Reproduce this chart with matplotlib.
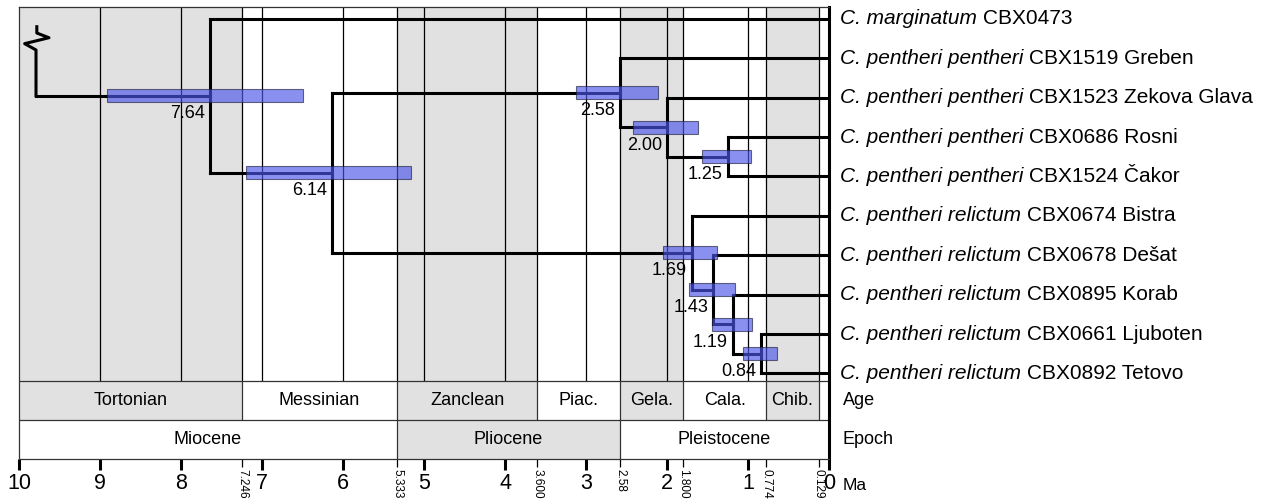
import matplotlib
matplotlib.use('Agg')
import matplotlib.pyplot as plt
from matplotlib.patches import Rectangle

plt.rcParams['font.family'] = ['Liberation Sans', 'DejaVu Sans']

# tip labels, top to bottom (italic part, plain part)
taxa_it = ['C. marginatum',
           'C. pentheri pentheri', 'C. pentheri pentheri', 'C. pentheri pentheri',
           'C. pentheri pentheri',
           'C. pentheri relictum', 'C. pentheri relictum', 'C. pentheri relictum',
           'C. pentheri relictum', 'C. pentheri relictum']
taxa_rest = ['CBX0473', 'CBX1519 Greben', 'CBX1523 Zekova Glava', 'CBX0686 Rosni',
             'CBX1524 Čakor', 'CBX0674 Bistra', 'CBX0678 Dešat', 'CBX0895 Korab',
             'CBX0661 Ljuboten', 'CBX0892 Tetovo']

# (node age, [children]) ; ints are tip indices
tree = (7.64, [0, (6.14, [(2.58, [1, (2.00, [2, (1.25, [3, 4])])]),
                          (1.69, [5, (1.43, [6, (1.19, [7, (0.84, [8, 9])])])])])])

# 95% HPD intervals (Ma)
hpd = {7.64: (8.91, 6.49), 6.14: (7.20, 5.16), 2.58: (3.12, 2.11),
       2.00: (2.42, 1.62), 1.25: (1.57, 0.96), 1.69: (2.05, 1.38),
       1.43: (1.73, 1.16), 1.19: (1.44, 0.95), 0.84: (1.06, 0.64)}

root_age = 9.79

# stages
stage_names = ['Tortonian', 'Messinian', 'Zanclean', 'Piac.', 'Gela.', 'Cala.', 'Chib.', '']
stage_bounds = [10, 7.246, 5.333, 3.600, 2.58, 1.800, 0.774, 0.129, 0]
stage_grey = [True, False, True, False, True, False, True, False]

epoch_names = ['Miocene', 'Pliocene', 'Pleistocene']
epoch_bounds = [10, 5.333, 2.58, 0]
epoch_grey = [False, True, False]

bound_labels = ['7.246', '5.333', '3.600', '2.58', '1.800', '0.774', '0.129']

grey = '#e1e1e1'
tree_top, age_top, epoch_top, epoch_bot = -0.3, 9.18, 10.18, 11.17
tip_fs = 15

fig = plt.figure(figsize=(12.73, 4.99), dpi=100)
ax = fig.add_axes([19 / 1273, 40 / 499, 810 / 1273, 452 / 499])
ax.set_xlim(10, 0)
ax.set_ylim(epoch_bot, tree_top)

# background shading of stages in tree panel and age band
for i in range(len(stage_names)):
    a, b = stage_bounds[i], stage_bounds[i + 1]
    if stage_grey[i]:
        ax.add_patch(Rectangle((b, tree_top), a - b, epoch_top - tree_top,
                               facecolor=grey, edgecolor='none', zorder=0))
    ax.text((a + b) / 2, (age_top + epoch_top) / 2, stage_names[i],
            ha='center', va='center', fontsize=13)
for i in range(len(epoch_names)):
    a, b = epoch_bounds[i], epoch_bounds[i + 1]
    if epoch_grey[i]:
        ax.add_patch(Rectangle((b, epoch_top), a - b, epoch_bot - epoch_top,
                               facecolor=grey, edgecolor='none', zorder=0))
    ax.text((a + b) / 2, (epoch_top + epoch_bot) / 2, epoch_names[i],
            ha='center', va='center', fontsize=13)

# vertical lines
grid = [9, 8, 7, 6, 5, 4, 3, 2, 1] + stage_bounds[1:-1]
ax.vlines(grid, tree_top, age_top, color='black', lw=0.9, zorder=1)
ax.vlines(stage_bounds[1:-1], age_top, epoch_top, color='#333333', lw=0.9, zorder=1)
ax.vlines(epoch_bounds[1:-1], epoch_top, epoch_bot, color='#333333', lw=0.9, zorder=1)
ax.hlines([age_top, epoch_top], 10, 0, color='#333333', lw=0.9, zorder=1)

lw = 2.2


def draw(node):
    if isinstance(node, int):
        return 0.0, float(node)
    age, kids = node
    pts = [draw(k) for k in kids]
    ys = [p[1] for p in pts]
    ax.plot([age, age], [min(ys), max(ys)], color='black', lw=lw, zorder=2,
            solid_capstyle='projecting')
    for x, y in pts:
        ax.plot([age, x], [y, y], color='black', lw=lw, zorder=2,
                solid_capstyle='projecting')
    ymid = (min(ys) + max(ys)) / 2
    lo, hi = hpd[age]
    ax.add_patch(Rectangle((hi, ymid - 0.165), lo - hi, 0.33, facecolor='#4b55e8',
                           alpha=0.65, edgecolor='#202040', lw=0.8, zorder=3))
    ax.annotate('%.2f' % age, xy=(age, ymid), xytext=(-3.5, -13),
                textcoords='offset points', ha='right', va='center',
                fontsize=13, zorder=4)
    return age, ymid


ra, ry = draw(tree)
ax.plot([root_age, ra], [ry, ry], color='black', lw=lw, zorder=2)
# broken root symbol
brk_x = [root_age, root_age, 9.93, 9.63, 9.78, 9.78]
brk_y = [ry, 0.79, 0.63, 0.48, 0.36, 0.2]
ax.plot(brk_x, brk_y, color='black', lw=lw, zorder=2)

renderer = fig.canvas.get_renderer()
for i in range(len(taxa_it)):
    t = ax.annotate(taxa_it[i], xy=(0, i), xytext=(8, 0), textcoords='offset points',
                    ha='left', va='center', fontsize=tip_fs, fontstyle='italic',
                    annotation_clip=False)
    w = t.get_window_extent(renderer).width * 72 / fig.dpi
    ax.annotate(taxa_rest[i], xy=(0, i), xytext=(8 + w + 0.278 * tip_fs, 0),
                textcoords='offset points', ha='left', va='center',
                fontsize=tip_fs, annotation_clip=False)

ax.annotate('Age', xy=(0, (age_top + epoch_top) / 2), xytext=(10, 0),
            textcoords='offset points', ha='left', va='center', fontsize=13,
            annotation_clip=False)
ax.annotate('Epoch', xy=(0, (epoch_top + epoch_bot) / 2), xytext=(10, 0),
            textcoords='offset points', ha='left', va='center', fontsize=13,
            annotation_clip=False)
ax.annotate('Ma', xy=(0, epoch_bot), xytext=(10, -19),
            textcoords='offset points', ha='left', va='center', fontsize=12.5,
            annotation_clip=False)

# axes
ax.set_yticks([])
ax.set_xticks(range(0, 11), labels=[str(v) for v in range(0, 11)])
ax.set_xticks(stage_bounds[1:-1], labels=bound_labels, minor=True)
ax.tick_params(axis='x', which='major', length=8, width=2.2, labelsize=15.5, pad=2)
ax.tick_params(axis='x', which='minor', length=6, width=0.9, labelsize=8.5,
               labelrotation=-90, pad=1)
for s in ['left', 'top', 'bottom']:
    ax.spines[s].set_color('#333333')
    ax.spines[s].set_linewidth(0.9)
ax.spines['right'].set_color('black')
ax.spines['right'].set_linewidth(2.2)

fig.savefig('out.png', dpi=100)
